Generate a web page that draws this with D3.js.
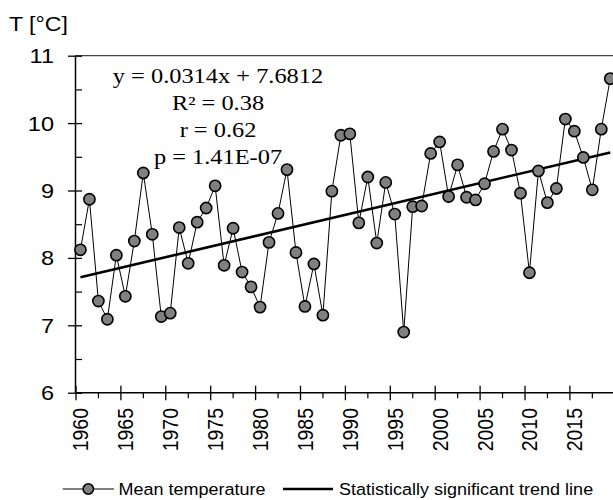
<!DOCTYPE html>
<html>
<head>
<meta charset="utf-8">
<script src="https://cdn.jsdelivr.net/npm/d3@7"></script>
<style>
html,body{margin:0;padding:0;background:#fff;}
svg{display:block;}
</style>
</head>
<body>
<script>
// ---- data ----
const years = d3.range(1960, 2020);
const meanTemp = [
  8.12, 8.87, 7.36, 7.09, 8.04, 7.43, 8.25, 9.26, 8.35, 7.13,
  7.18, 8.45, 7.92, 8.53, 8.74, 9.07, 7.89, 8.44, 7.79, 7.57,
  7.27, 8.23, 8.66, 9.31, 8.08, 7.28, 7.91, 7.15, 8.99, 9.82,
  9.84, 8.52, 9.20, 8.22, 9.12, 8.65, 6.90, 8.76, 8.77, 9.55,
  9.72, 8.91, 9.38, 8.90, 8.86, 9.10, 9.58, 9.91, 9.60, 8.96,
  7.78, 9.29, 8.82, 9.03, 10.06, 9.88, 9.49, 9.01, 9.91, 10.66
];
const trendSlope = 0.0314;
const trendIntercept = 7.6812;
const equationLines = ["y = 0.0314x + 7.6812", "R\u00B2 = 0.38", "r = 0.62", "p = 1.41E-07"];
const yTicks = [6, 7, 8, 9, 10, 11];
const xTickYears = [1960, 1965, 1970, 1975, 1980, 1985, 1990, 1995, 2000, 2005, 2010, 2015];
const yAxisTitle = "T [\u00B0C]";
const legendLabels = ["Mean temperature", "Statistically significant trend line"];

// ---- layout ----
const W = 613, H = 500;
const svg = d3.select("body").append("svg").attr("width", W).attr("height", H);

const x = d3.scaleLinear().domain([1960, 2020]).range([75.5, 614.3]);
const y = d3.scaleLinear().domain([6, 11]).range([392.7, 55.7]);
const px = yr => x(yr + 0.55);

const SANS = "'Liberation Sans', Arial, sans-serif";
const SERIF = "'Liberation Serif', 'Times New Roman', serif";

// top frame line
svg.append("line").attr("x1", x(1960)).attr("x2", W).attr("y1", y(11)).attr("y2", y(11))
  .attr("stroke", "#444").attr("stroke-width", 1.3);

// y axis minor ticks (inside)
const yMinor = d3.axisLeft(y).tickValues(d3.range(6.5, 11, 1)).tickSize(-6.5).tickFormat("");
svg.append("g").attr("transform", `translate(${x(1960)},0)`).call(yMinor)
  .call(g => g.select(".domain").remove())
  .selectAll("line").attr("stroke", "#000").attr("stroke-width", 1.2);

// y axis major
const yMajor = d3.axisLeft(y).tickValues(yTicks).tickSize(7.5).tickFormat("");
const gy = svg.append("g").attr("transform", `translate(${x(1960)},0)`).call(yMajor);
gy.select(".domain").attr("stroke", "#000").attr("stroke-width", 1.5).attr("d", `M0,${y(11)}V${y(6)}`);
gy.selectAll(".tick line").attr("x2", -7.5).attr("x1", 6.5).attr("stroke", "#000").attr("stroke-width", 1.3);

// y labels
svg.append("g").selectAll("text").data(yTicks).join("text")
  .attr("transform", d => `translate(54,${y(d)}) scale(1.12,1)`)
  .attr("dy", "0.36em").attr("text-anchor", "end")
  .attr("font-family", SANS).attr("font-size", 21).attr("fill", "#000")
  .text(d => d);

// x axis minor ticks
const xMinor = d3.axisBottom(x).tickValues(d3.range(1962.5, 2020, 5)).tickSize(5.5).tickFormat("");
svg.append("g").attr("transform", `translate(0,${y(6)})`).call(xMinor)
  .call(g => g.select(".domain").remove())
  .selectAll("line").attr("stroke", "#000").attr("stroke-width", 1.2);

// x axis major
const xMajor = d3.axisBottom(x).tickValues(xTickYears).tickSize(7.5).tickFormat("");
const gx = svg.append("g").attr("transform", `translate(0,${y(6)})`).call(xMajor);
gx.select(".domain").attr("stroke", "#000").attr("stroke-width", 1.5).attr("d", `M${x(1960)},0H${W}`);
gx.selectAll(".tick line").attr("y1", -7).attr("y2", 7.5).attr("stroke", "#000").attr("stroke-width", 1.3);

// x labels (rotated)
svg.append("g").selectAll("text").data(xTickYears).join("text")
  .attr("transform", d => `translate(${px(d)},408) scale(1.14,1) rotate(-90)`)
  .attr("dy", "0.36em").attr("text-anchor", "end")
  .attr("font-family", SANS).attr("font-size", 19.5).attr("fill", "#000")
  .text(d => d);

// y axis title
svg.append("text").attr("transform", "translate(9,31) scale(1.1,1)")
  .attr("font-family", SANS).attr("font-size", 21).attr("fill", "#000").text(yAxisTitle);

// data line
const line = d3.line().x((d, i) => px(years[i])).y(d => y(d));
svg.append("path").datum(meanTemp).attr("d", line)
  .attr("fill", "none").attr("stroke", "#000").attr("stroke-width", 1);

// trend line
const trendPts = [1, 60].map(k => [px(years[k - 1]), y(trendSlope * k + trendIntercept)]);
svg.append("path").attr("d", d3.line()(trendPts))
  .attr("fill", "none").attr("stroke", "#000").attr("stroke-width", 2.6);

// markers
svg.append("g").selectAll("circle").data(meanTemp).join("circle")
  .attr("cx", (d, i) => px(years[i])).attr("cy", d => y(d)).attr("r", 5.6)
  .attr("fill", "#808080").attr("stroke", "#000").attr("stroke-width", 1.6);

// equation text
svg.append("g").selectAll("text").data(equationLines).join("text")
  .attr("transform", (d, i) => `translate(218,${83.3 + i * 27}) scale(1.22,1)`)
  .attr("text-anchor", "middle").attr("font-family", SERIF).attr("font-size", 20).attr("fill", "#000")
  .text(d => d);

// legend
const lg = svg.append("g");
lg.append("line").attr("x1", 62.7).attr("x2", 114).attr("y1", 489).attr("y2", 489)
  .attr("stroke", "#000").attr("stroke-width", 1);
lg.append("circle").attr("cx", 88.3).attr("cy", 489).attr("r", 5.2)
  .attr("fill", "#808080").attr("stroke", "#000").attr("stroke-width", 1.6);
lg.append("text").attr("transform", "translate(118.5,495) scale(1.06,1)")
  .attr("font-family", SANS).attr("font-size", 17).attr("fill", "#000").text(legendLabels[0]);
lg.append("line").attr("x1", 283).attr("x2", 333).attr("y1", 489).attr("y2", 489)
  .attr("stroke", "#000").attr("stroke-width", 2.6);
lg.append("text").attr("transform", "translate(339,495) scale(1.06,1)")
  .attr("font-family", SANS).attr("font-size", 17).attr("fill", "#000").text(legendLabels[1]);
</script>
</body>
</html>
